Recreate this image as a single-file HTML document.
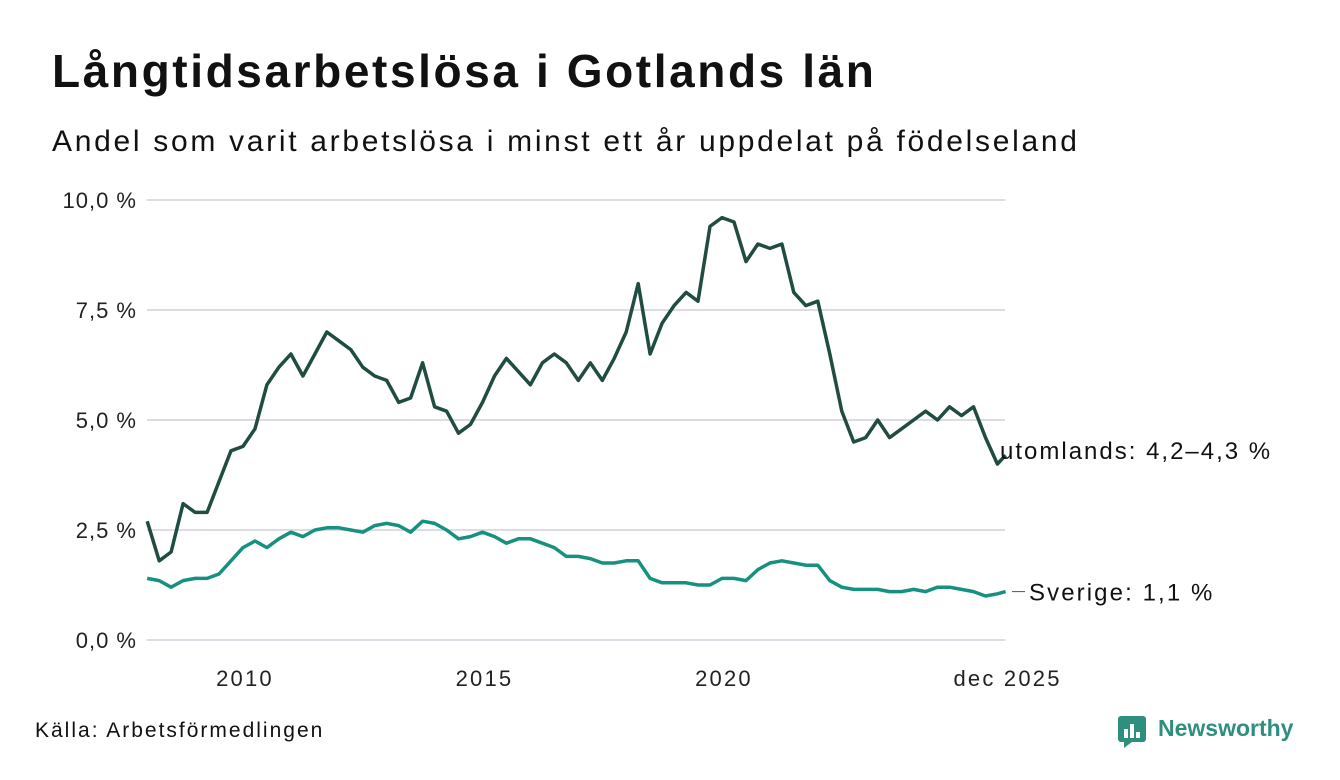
<!DOCTYPE html>
<html><head><meta charset="utf-8"><style>
body{margin:0;width:1340px;height:780px;background:#fff;font-family:"Liberation Sans",sans-serif;overflow:hidden;position:relative}
.t{position:absolute;white-space:nowrap;color:#111}
</style></head><body>
<div class="t" style="left:52px;top:44px;font-size:46px;font-weight:bold;letter-spacing:2.6px">Långtidsarbetslösa i Gotlands län</div>
<div class="t" style="left:52px;top:125px;font-size:30px;letter-spacing:2.7px">Andel som varit arbetslösa i minst ett år uppdelat på födelseland</div>
<svg id="chart" width="1340" height="780" style="position:absolute;left:0;top:0" font-family="Liberation Sans, sans-serif"></svg>
<div class="t" style="left:35px;top:719px;font-size:21px;letter-spacing:2px">Källa: Arbetsförmedlingen</div>
<div style="position:absolute;left:1118px;top:714px;height:34px">
<svg width="30" height="34" style="position:absolute;left:0;top:0"><rect x="0" y="2" width="28" height="26" rx="3" fill="#2f8f7f"/><polygon points="6,28 14,28 6,34" fill="#2f8f7f"/><rect x="6" y="15" width="4" height="9" fill="#fff"/><rect x="12" y="10" width="4" height="14" fill="#fff"/><rect x="18" y="18" width="4" height="6" fill="#fff"/></svg>
<span style="position:absolute;left:40px;top:1px;font-size:23px;font-weight:bold;color:#2f8f7f">Newsworthy</span></div>
<script>
const yTicks=[0,2.5,5,7.5,10];
const yTickLabels=["0,0 %","2,5 %","5,0 %","7,5 %","10,0 %"];
const xTicks=[2010,2015,2020,2025.92];
const xTickLabels=["2010","2015","2020","dec 2025"];
const times=[];
for(let i=0;i<=71;i++)times.push(2008+i*0.25);
times.push(2025.92);
const utomlands=[2.7,1.8,2.0,3.1,2.9,2.9,3.6,4.3,4.4,4.8,5.8,6.2,6.5,6.0,6.5,7.0,6.8,6.6,6.2,6.0,5.9,5.4,5.5,6.3,5.3,5.2,4.7,4.9,5.4,6.0,6.4,6.1,5.8,6.3,6.5,6.3,5.9,6.3,5.9,6.4,7.0,8.1,6.5,7.2,7.6,7.9,7.7,9.4,9.6,9.5,8.6,9.0,8.9,9.0,7.9,7.6,7.7,6.5,5.2,4.5,4.6,5.0,4.6,4.8,5.0,5.2,5.0,5.3,5.1,5.3,4.6,4.0,4.2];
const sverige=[1.4,1.35,1.2,1.35,1.4,1.4,1.5,1.8,2.1,2.25,2.1,2.3,2.45,2.35,2.5,2.55,2.55,2.5,2.45,2.6,2.65,2.6,2.45,2.7,2.65,2.5,2.3,2.35,2.45,2.35,2.2,2.3,2.3,2.2,2.1,1.9,1.9,1.85,1.75,1.75,1.8,1.8,1.4,1.3,1.3,1.3,1.25,1.25,1.4,1.4,1.35,1.6,1.75,1.8,1.75,1.7,1.7,1.35,1.2,1.15,1.15,1.15,1.1,1.1,1.15,1.1,1.2,1.2,1.15,1.1,1.0,1.05,1.1];
const xS=t=>147.2+(t-2008)*47.9;
const yS=v=>640-44*v;
const svg=document.getElementById('chart');
const NS='http://www.w3.org/2000/svg';
function mk(tag,a){const e=document.createElementNS(NS,tag);for(const k in a)e.setAttribute(k,a[k]);svg.appendChild(e);return e;}
yTicks.forEach((v,i)=>{
 const g=mk('line',{x1:147,x2:1005,y1:yS(v),y2:yS(v),stroke:'#dcdce2','stroke-width':2});
 
 
 const t=mk('text',{x:137,y:yS(v)+8,'text-anchor':'end','font-size':22,'letter-spacing':1,fill:'#222'});
 t.textContent=yTickLabels[i];
 
 
});
xTicks.forEach((v,i)=>{
 const t=mk('text',{x:xS(v)+2,y:686,'text-anchor':'middle','font-size':22,'letter-spacing':2.2,fill:'#222'});
 t.textContent=xTickLabels[i];
 
 
});
function line(arr,col,name){
 const d=arr.map((v,i)=>(i?'L':'M')+xS(times[i]).toFixed(1)+','+yS(v).toFixed(1)).join('');
 const p=mk('path',{d:d,fill:'none',stroke:col,'stroke-width':3.5,'stroke-linejoin':'round'});
 
 
}
line(sverige,'#17917f','sverige-line');
line(utomlands,'#204c42','utomlands-line');
const lu=mk('text',{x:1000,y:yS(utomlands[utomlands.length-1])+4,'font-size':24,'letter-spacing':2,fill:'#111'});
lu.textContent='utomlands: 4,2–4,3 %';


const ys=yS(sverige[sverige.length-1]);
const ll=mk('line',{x1:1012,x2:1025,y1:ys,y2:ys,stroke:'#555','stroke-width':1});


const ls=mk('text',{x:1029,y:ys+9,'font-size':24,'letter-spacing':2.1,fill:'#111'});
ls.textContent='Sverige: 1,1 %';


</script>
</body></html>
